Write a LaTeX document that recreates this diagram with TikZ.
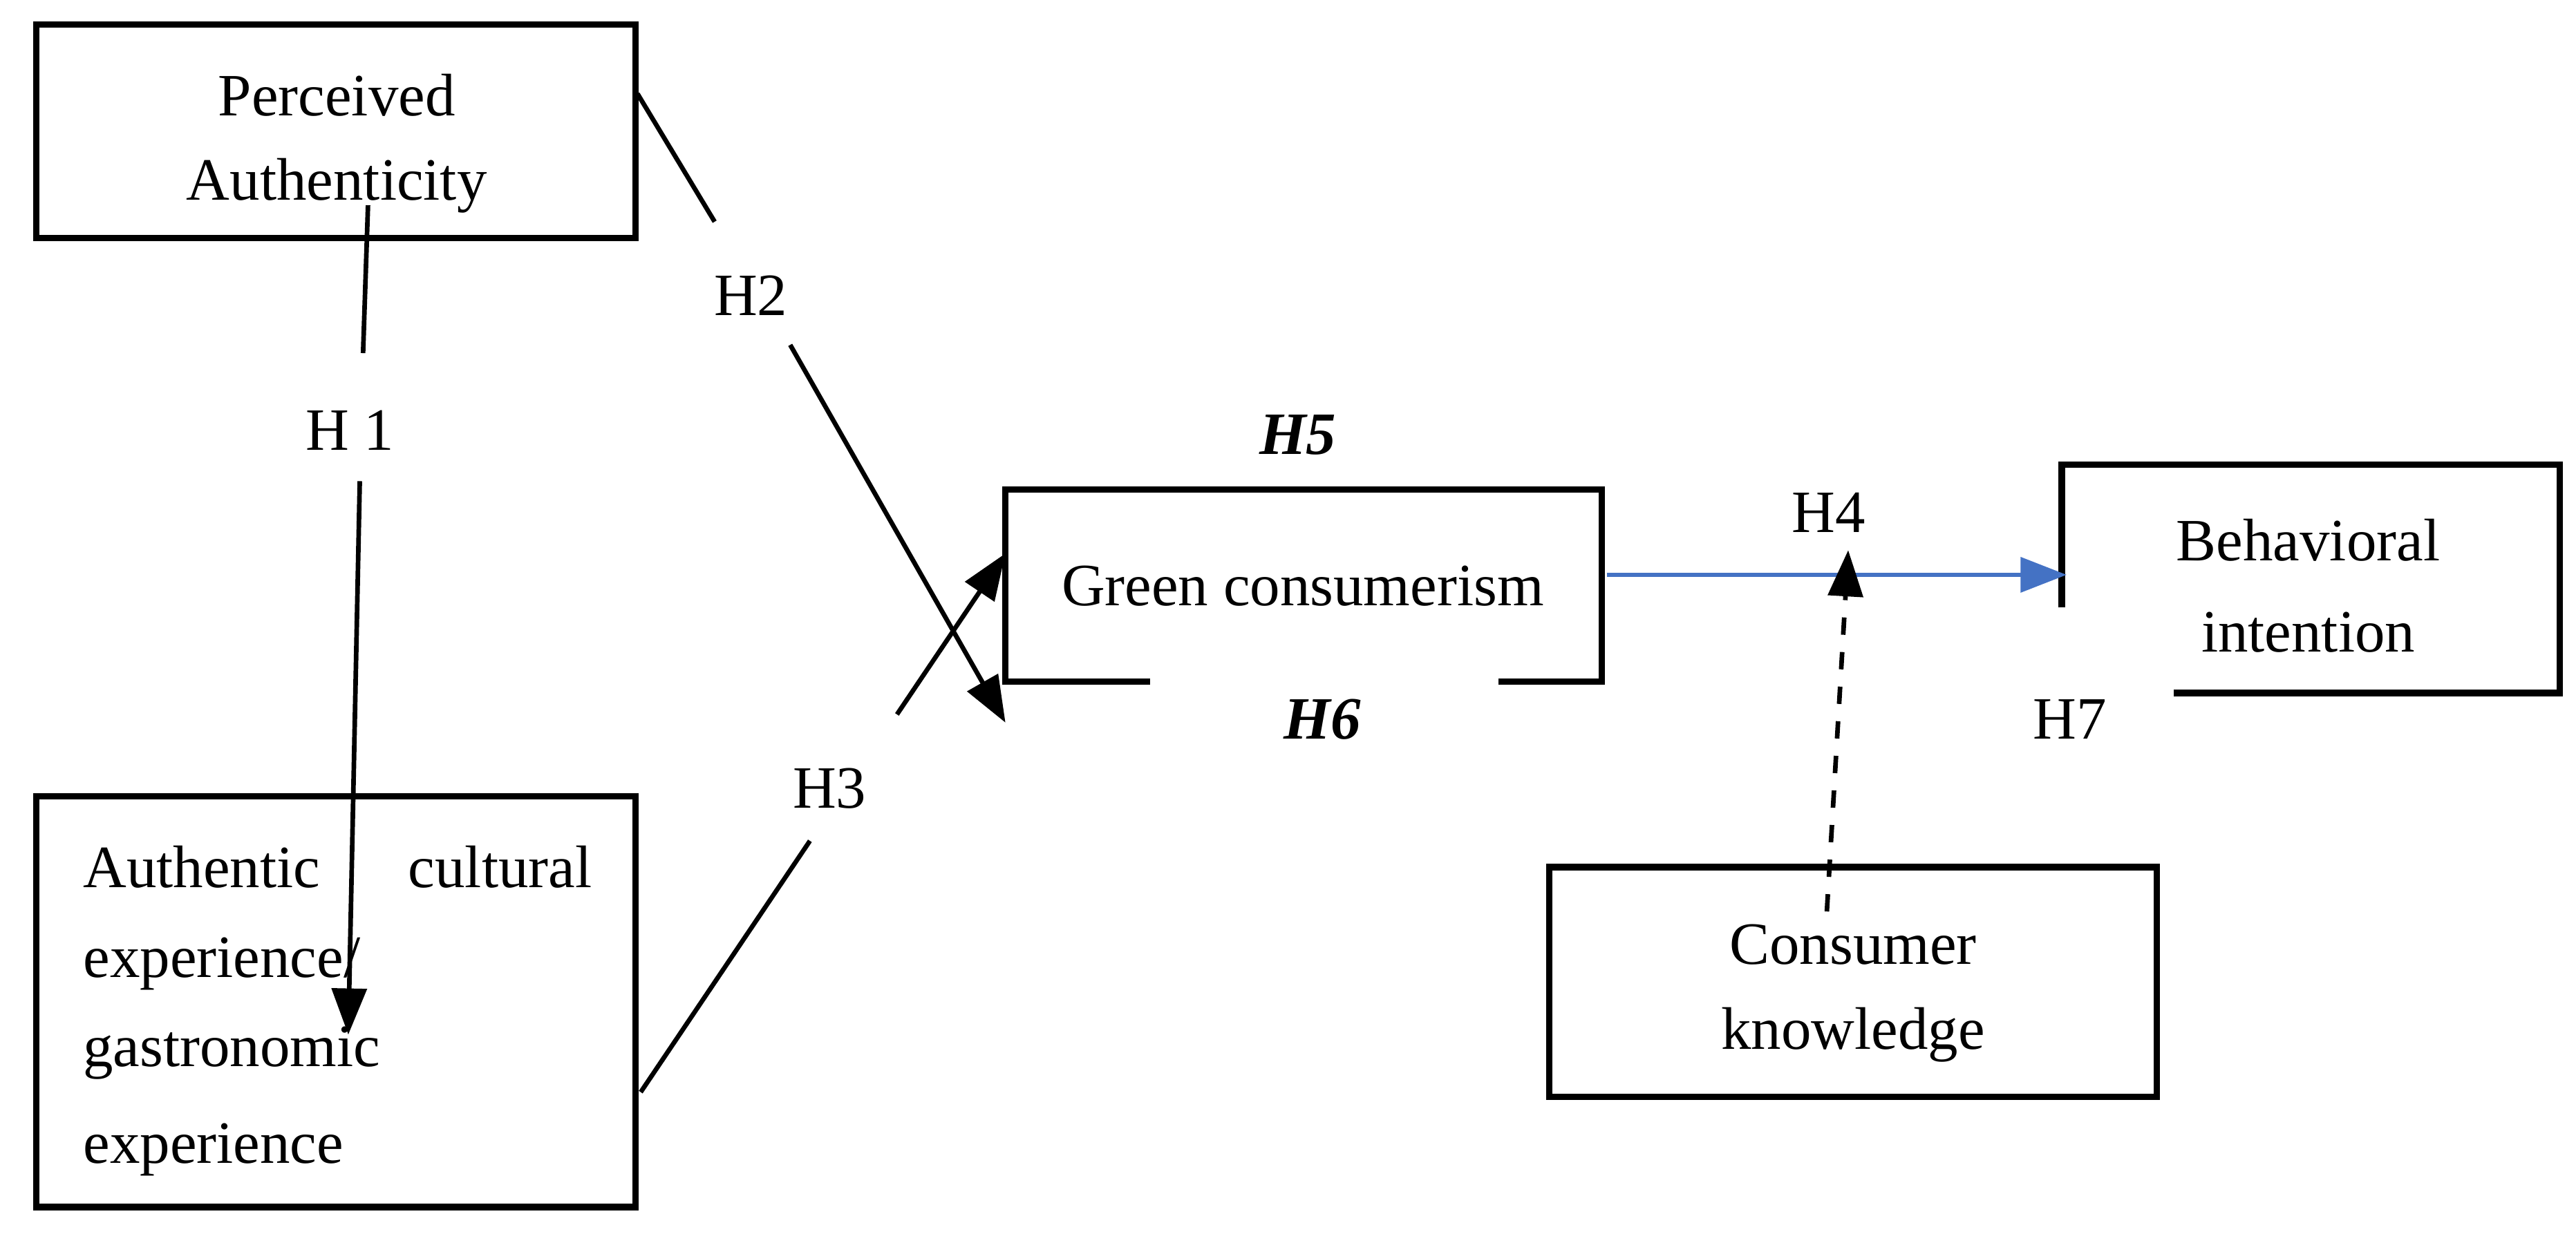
\documentclass[tikz,border=0pt]{standalone}
\usepackage{fontspec}
\setmainfont{Liberation Serif}
\usetikzlibrary{arrows.meta}
\begin{document}
\begin{tikzpicture}[x=0.01cm,y=-0.01cm,
  ln/.style={line width=0.8pt},
  bx/.style={line width=1.1pt},
  arr/.style={ln,-{Triangle[length=8pt,width=6pt]}},
  txt/.style={font=\fontsize{10.4}{13}\selectfont,inner sep=0pt},
  bi/.style={txt,font=\fontsize{10.4}{13}\selectfont\bfseries\itshape}]
\useasboundingbox (0,0) rectangle (1568,751);
% Perceived Authenticity
\draw[bx] (22,15) rectangle (387,145);
\node[txt] (pa1) at (205,58) {Perceived};
\node[txt] (pa2) at (205,113) {Authenticity};
% Authentic cultural
\draw[bx] (22,485) rectangle (387,735);
\node[txt,anchor=west] (ac1) at (50,528) {Authentic};
\node[txt,anchor=east] (ac1b) at (361,528) {cultural};
\node[txt,anchor=west] (ac2) at (50,587) {experience/};
\node[txt,anchor=west] (ac3) at (50,641) {gastronomic};
\node[txt,anchor=west] (ac4) at (50,700) {experience};
% Green consumerism
\draw[bx] (700,415) -- (612,415) -- (612,298) -- (975,298) -- (975,415) -- (912,415);
\node[txt] (gc) at (793,357) {Green consumerism};
\node[bi] (h5) at (790,265) {H5};
\node[bi] (h6) at (805,438) {H6};
% Behavioral intention
\draw[bx] (1255,370) -- (1255,283) -- (1558,283) -- (1558,422) -- (1323,422);
\node[txt] (bi1) at (1405,329) {Behavioral};
\node[txt] (bi2) at (1405,385) {intention};
\node[txt] (h7) at (1260,438) {H7};
% Consumer knowledge
\draw[bx] (943,528) rectangle (1313,668);
\node[txt] (ck1) at (1128,575) {Consumer};
\node[txt] (ck2) at (1128,630) {knowledge};
% Hypothesis labels
\node[txt] (h1) at (213,262) {H 1};
\node[txt] (h2) at (457,180) {H2};
\node[txt] (h3) at (505,480) {H3};
\node[txt] (h4) at (1113,312) {H4};
% coordinates
\coordinate (a1) at (224,125); \coordinate (a2) at (221,215);
\coordinate (a3) at (219,293); \coordinate (a4) at (212,630);
\coordinate (b1) at (388,57); \coordinate (b2) at (435,135);
\coordinate (b3) at (481,210); \coordinate (b4) at (612,440);
\coordinate (c1) at (390,665); \coordinate (c2) at (493,512);
\coordinate (c3) at (546,435); \coordinate (c4) at (612,337);
\coordinate (d1) at (978,350); \coordinate (d2) at (1258,350);
\coordinate (e1) at (1112,555); \coordinate (e2) at (1125,335);
\draw[ln] (a1) -- (a2);
\draw[arr] (a3) -- (a4);
\draw[ln] (b1) -- (b2);
\draw[arr] (b3) -- (b4);
\draw[ln] (c1) -- (c2);
\draw[arr] (c3) -- (c4);
\draw[ln,draw={rgb,255:red,68;green,114;blue,196},-{Triangle[length=8pt,width=6pt]}] (d1) -- (d2);
\draw[arr,dashed] (e1) -- (e2);
\end{tikzpicture}
\end{document}
